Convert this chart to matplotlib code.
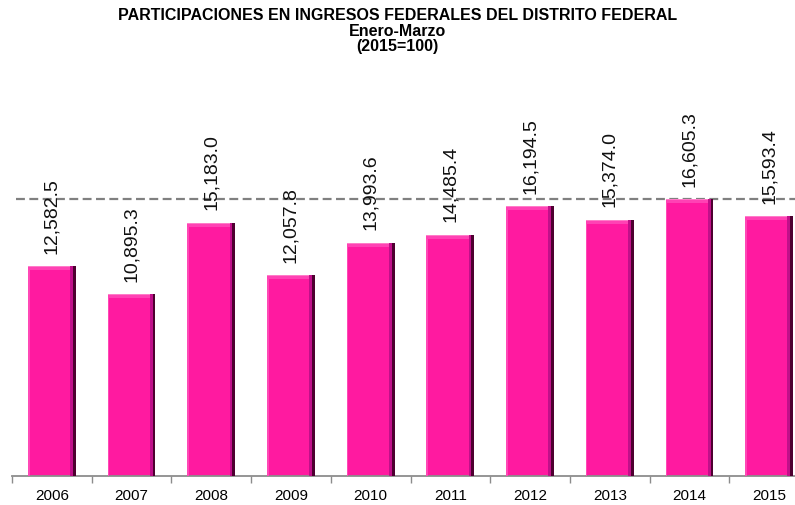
import matplotlib
matplotlib.use("Agg")
import matplotlib.pyplot as plt
import numpy as np

years = ["2006", "2007", "2008", "2009", "2010", "2011", "2012", "2013", "2014", "2015"]
values = [12582.5, 10895.3, 15183.0, 12057.8, 13993.6, 14485.4, 16194.5, 15374.0, 16605.3, 15593.4]
labels = ["12,582.5", "10,895.3", "15,183.0", "12,057.8", "13,993.6",
          "14,485.4", "16,194.5", "15,374.0", "16,605.3", "15,593.4"]

plt.rcParams['font.family'] = ['Liberation Sans', 'DejaVu Sans']

W, H = 795, 505
fig = plt.figure(figsize=(W / 100, H / 100), dpi=100)
ax = fig.add_axes([12 / W, 29 / H, 797 / W, 300 / H])
ax.set_xlim(-0.5, 9.5)
ax.set_ylim(0, 18000)

x = np.arange(len(values))
vals = np.array(values)
bw = 0.6
main = '#FF1AA0'

# base bars
ax.bar(x, vals, width=bw, color=main, zorder=2, linewidth=0)
# left light edge
ax.bar(x - bw / 2, vals, width=0.02, align='edge', color='#FF48B6', zorder=3, linewidth=0)
# right shaded edges
ax.bar(x + bw / 2 - 0.07, vals, width=0.035, align='edge', color='#C0108A', zorder=3, linewidth=0)
ax.bar(x + bw / 2 - 0.035, vals, width=0.035, align='edge', color='#4E0030', zorder=3, linewidth=0)
# top bevel
ax.bar(x - 0.035, np.full_like(vals, 240), bottom=vals - 240, width=bw - 0.07, align='center',
       color='#FF42B4', zorder=4, linewidth=0)
ax.bar(x - 0.035, np.full_like(vals, 60), bottom=vals - 60, width=bw - 0.07, align='center',
       color='#FF7CC8', zorder=4, linewidth=0)

# dashed reference line at maximum
ax.plot([-0.45, 9.6], [max(values), max(values)], color='#808080', lw=1.6,
        dashes=(4, 2), zorder=1, clip_on=False)

for xi, v, lab in zip(x, values, labels):
    ax.annotate(lab, (xi, v), xytext=(0, 9), textcoords='offset points',
                rotation=90, ha='center', va='bottom', fontsize=14,
                color='#111111', zorder=5, annotation_clip=False)

for s in ['top', 'right', 'left']:
    ax.spines[s].set_visible(False)
ax.spines['bottom'].set_color('#8C8C8C')
ax.spines['bottom'].set_linewidth(1.3)
ax.set_yticks([])
ax.set_xticks(np.arange(-0.5, 10, 1))
ax.set_xticklabels([])
ax.tick_params(axis='x', which='major', length=5, color='#8C8C8C', width=1)
ax.set_xticks(x, minor=True)
ax.set_xticklabels(years, minor=True, fontsize=11)
ax.tick_params(axis='x', which='minor', length=0, pad=9)

fig.text(0.5, 1 - 15 / H, "PARTICIPACIONES EN INGRESOS FEDERALES DEL DISTRITO FEDERAL",
         ha='center', va='center', fontsize=11.5, fontweight='bold')
fig.text(0.5, 1 - 31 / H, "Enero-Marzo", ha='center', va='center', fontsize=11.5, fontweight='bold')
fig.text(0.5, 1 - 47 / H, "(2015=100)", ha='center', va='center', fontsize=11.5, fontweight='bold')

fig.savefig("out.png", dpi=100)
